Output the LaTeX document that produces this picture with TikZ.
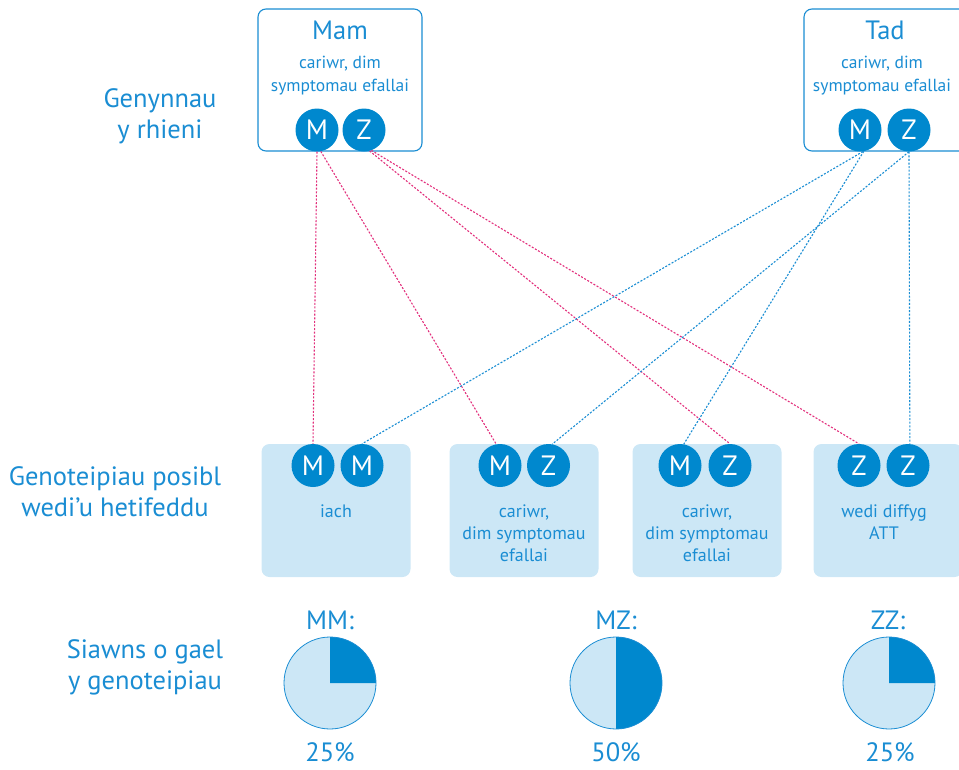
\documentclass[tikz,border=0pt]{standalone}
\usepackage{fontspec}
\setmainfont{PT Sans}
\definecolor{tblue}{HTML}{1A8DD3}
\definecolor{dblue}{HTML}{0088CE}
\definecolor{lblue}{HTML}{CCE7F6}
\definecolor{pinkc}{HTML}{E2307C}
\tikzset{
  parentbox/.style={draw=tblue, line width=1.1pt, rounded corners=8pt, fill=white, minimum width=164pt, minimum height=142pt, inner sep=0pt},
  childbox/.style={fill=lblue, rounded corners=8pt, minimum width=149pt, minimum height=133pt, inner sep=0pt},
  allele/.style={circle, fill=dblue, text=white, minimum size=43pt, inner sep=0pt, font=\fontsize{28}{28}\selectfont},
  sidelabel/.style={text=tblue, align=center, font=\fontsize{26.5}{31}\selectfont},
  ptitle/.style={text=tblue, font=\fontsize{26.5}{26.5}\selectfont},
  psub/.style={text=tblue, align=center, font=\fontsize{17.5}{23}\selectfont},
  ctext/.style={text=tblue, align=center, font=\fontsize{18}{22}\selectfont},
  pielabel/.style={text=tblue, font=\fontsize{26.5}{26.5}\selectfont},
  pinkline/.style={draw=pinkc, line width=1.1pt, dash pattern=on 2pt off 1.6pt},
  blueline/.style={draw=tblue, line width=1.1pt, dash pattern=on 2pt off 1.6pt},
  piedark/.style={fill=dblue}
}
\begin{document}
\begin{tikzpicture}[x=1pt,y=-1pt]
\useasboundingbox (0,0) rectangle (959,769);
\clip (0,0) rectangle (959,769);
% side labels
\node[sidelabel] (lab1) at (160,116) {Genynnau\\y rhieni};
\node[sidelabel] (lab2) at (115,492) {Genoteipiau posibl\\wedi’u hetifeddu};
\node[sidelabel] (lab3) at (145,667) {Siawns o gael\\y genoteipiau};
% parent boxes
\node[parentbox] (mam) at (340,80) {};
\node[ptitle] (mamt) at (340,30) {Mam};
\node[psub] (mams) at (340,76) {cariwr, dim\\symptomau efallai};
\node[allele] (mamM) at (317,130) {M};
\node[allele] (mamZ) at (364,130) {Z};
\node[parentbox] (tad) at (886,80) {};
\node[ptitle] (tadt) at (885,30) {Tad};
\node[psub] (tads) at (882,76) {cariwr, dim\\symptomau efallai};
\node[allele] (tadM) at (860,130) {M};
\node[allele] (tadZ) at (909,130) {Z};
% child boxes
\node[childbox] (b1) at (336,510.5) {};
\node[childbox] (b2) at (524,510.5) {};
\node[childbox] (b3) at (707,510.5) {};
\node[childbox] (b4) at (888,510.5) {};
\node[allele] (c1a) at (313,465.5) {M};
\node[allele] (c1b) at (362,465.5) {M};
\node[allele] (c2a) at (500,465.5) {M};
\node[allele] (c2b) at (548.5,465.5) {Z};
\node[allele] (c3a) at (680,465.5) {M};
\node[allele] (c3b) at (730,465.5) {Z};
\node[allele] (c4a) at (859,465.5) {Z};
\node[allele] (c4b) at (908,465.5) {Z};
\node[ctext] (t1) at (336,511) {iach};
\node[ctext] (t2) at (524,533) {cariwr,\\dim symptomau\\efallai};
\node[ctext] (t3) at (707,533) {cariwr,\\dim symptomau\\efallai};
\node[ctext] (t4) at (884,522) {wedi diffyg\\ATT};
% connectors
\draw[pinkline] (mamM.south) -- (c1a.north);
\draw[pinkline] (mamM.-80) -- (c2a.100);
\draw[pinkline] (mamZ.-75) -- (c3b.north);
\draw[pinkline] (mamZ.-70) -- (c4a.north);
\draw[blueline] (tadM.-82) -- (c1b.north);
\draw[blueline] (tadM.-80) -- (c3a.80);
\draw[blueline] (tadZ.south) -- (c2b.80);
\draw[blueline] (tadZ.south) -- (c4b.85);
% pies
\coordinate (p1) at (330,683);
\coordinate (p2) at (616,683);
\coordinate (p3) at (889,683);
\fill[lblue] (p1) circle[radius=46];
\fill[piedark] (p1) -- ++(0,-46) arc[start angle=-90, end angle=0, radius=46] -- cycle;
\draw[tblue, line width=0.8pt] (p1) circle[radius=46];
\fill[lblue] (p2) circle[radius=46];
\fill[piedark] (p2) -- ++(0,-46) arc[start angle=-90, end angle=90, radius=46] -- cycle;
\draw[tblue, line width=0.8pt] (p2) circle[radius=46];
\fill[lblue] (p3) circle[radius=46];
\fill[piedark] (p3) -- ++(0,-46) arc[start angle=-90, end angle=0, radius=46] -- cycle;
\draw[tblue, line width=0.8pt] (p3) circle[radius=46];
\node[pielabel] (l1) at (330,620) {MM:};
\node[pielabel] (l2) at (616,620) {MZ:};
\node[pielabel] (l3) at (888,620) {ZZ:};
\node[pielabel] (v1) at (330,752) {25\%};
\node[pielabel] (v2) at (616,752) {50\%};
\node[pielabel] (v3) at (890,752) {25\%};
\end{tikzpicture}
\end{document}
